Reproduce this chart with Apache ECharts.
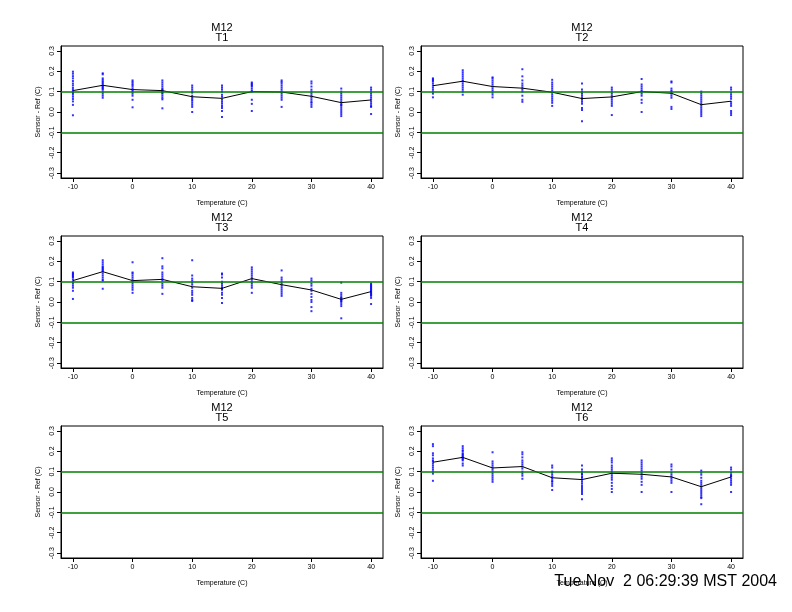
<!DOCTYPE html>
<html>
<head>
<meta charset="utf-8">
<script src="https://cdn.jsdelivr.net/npm/echarts@6/dist/echarts.min.js"></script>
<style>html,body{margin:0;padding:0;background:#fff;}#c{width:792px;height:612px;}</style>
</head>
<body>
<div id="c"></div>
<script>
const temps = [-10, -5, 0, 5, 10, 15, 20, 25, 30, 35, 40];
const xTicks = [-10, 0, 10, 20, 30, 40];
const yTicks = [-0.3, -0.2, -0.1, 0, 0.1, 0.2, 0.3];
const refLines = [0.1, -0.1];
const panelTitles = ['T1', 'T2', 'T3', 'T4', 'T5', 'T6'];
const mainTitle = 'M12';
const xName = 'Temperature (C)';
const yName = 'Sensor - Ref (C)';
const stamp = 'Tue Nov  2 06:29:39 MST 2004';

// T1
const t1Points = [
  [0.198,0.188,0.176,0.165,0.152,0.14,0.13,0.118,0.108,0.1,0.093,0.085,0.075,0.064,0.052,0.035,-0.016],
  [0.19,0.185,0.165,0.158,0.15,0.145,0.138,0.13,0.125,0.12,0.115,0.11,0.1,0.09,0.08,0.07],
  [0.155,0.148,0.14,0.133,0.125,0.115,0.105,0.1,0.09,0.08,0.06,0.023],
  [0.155,0.145,0.135,0.125,0.115,0.11,0.105,0.1,0.095,0.09,0.08,0.07,0.062,0.018],
  [0.13,0.12,0.11,0.1,0.095,0.08,0.07,0.062,0.055,0.045,0.035,0.025,0.0],
  [0.13,0.12,0.11,0.1,0.085,0.075,0.06,0.05,0.04,0.03,0.02,0.005,-0.025],
  [0.145,0.14,0.135,0.13,0.125,0.115,0.105,0.1,0.06,0.04,0.005],
  [0.155,0.148,0.14,0.13,0.12,0.11,0.1,0.09,0.08,0.07,0.06,0.025],
  [0.15,0.14,0.125,0.11,0.1,0.09,0.08,0.07,0.06,0.05,0.045,0.035,0.025],
  [0.115,0.1,0.09,0.08,0.07,0.06,0.05,0.04,0.035,0.03,0.02,0.01,0.0,-0.01,-0.02],
  [0.12,0.11,0.1,0.09,0.08,0.07,0.06,0.05,0.04,0.03,0.025,-0.01]
];
const t1Mean = [0.105, 0.131, 0.11, 0.105, 0.075, 0.067, 0.1, 0.098, 0.077, 0.046, 0.059];

// T2
const t2Points = [
  [0.165,0.16,0.155,0.15,0.14,0.13,0.12,0.11,0.1,0.09,0.072],
  [0.205,0.195,0.185,0.175,0.165,0.155,0.15,0.14,0.13,0.12,0.11,0.1,0.085],
  [0.17,0.165,0.155,0.145,0.135,0.125,0.115,0.105,0.095,0.085,0.072],
  [0.21,0.175,0.155,0.14,0.13,0.12,0.11,0.1,0.08,0.06,0.05],
  [0.158,0.145,0.135,0.125,0.115,0.105,0.095,0.085,0.075,0.065,0.055,0.045,0.03],
  [0.14,0.11,0.1,0.09,0.08,0.07,0.06,0.05,0.04,0.02,0.01,-0.045],
  [0.12,0.11,0.1,0.09,0.08,0.07,0.06,0.05,0.04,0.03,-0.015],
  [0.162,0.135,0.125,0.115,0.105,0.1,0.09,0.08,0.06,0.045,0.0],
  [0.15,0.145,0.115,0.105,0.1,0.09,0.08,0.07,0.025,0.015],
  [0.1,0.09,0.08,0.07,0.06,0.05,0.04,0.03,0.02,0.01,0.0,-0.01,-0.02],
  [0.12,0.11,0.095,0.085,0.075,0.065,0.05,0.04,0.03,0.005,-0.005,-0.015]
];
const t2Mean = [0.129, 0.151, 0.125, 0.117, 0.097, 0.066, 0.074, 0.1, 0.092, 0.036, 0.053];

// T3
const t3Points = [
  [0.145,0.14,0.135,0.13,0.125,0.12,0.11,0.1,0.09,0.08,0.07,0.055,0.015],
  [0.205,0.195,0.185,0.175,0.17,0.165,0.16,0.155,0.15,0.14,0.13,0.12,0.11,0.105,0.065],
  [0.195,0.145,0.14,0.13,0.12,0.11,0.1,0.09,0.08,0.07,0.06,0.045],
  [0.215,0.175,0.165,0.145,0.135,0.125,0.115,0.105,0.09,0.08,0.07,0.04],
  [0.205,0.13,0.115,0.105,0.095,0.085,0.07,0.055,0.045,0.035,0.02,0.01,0.005],
  [0.14,0.135,0.12,0.1,0.09,0.08,0.07,0.065,0.06,0.045,0.035,0.02,-0.005],
  [0.17,0.16,0.15,0.14,0.13,0.12,0.11,0.1,0.09,0.08,0.07,0.045],
  [0.155,0.12,0.11,0.1,0.09,0.08,0.07,0.06,0.05,0.04,0.03],
  [0.115,0.105,0.09,0.08,0.065,0.055,0.04,0.025,0.01,0.0,-0.025,-0.045],
  [0.095,0.045,0.035,0.025,0.02,0.015,0.01,0.005,0.0,-0.01,-0.02,-0.08],
  [0.09,0.085,0.08,0.075,0.07,0.065,0.06,0.055,0.05,0.045,0.04,0.035,0.03,0.02,-0.01]
];
const t3Mean = [0.105, 0.149, 0.105, 0.111, 0.075, 0.067, 0.115, 0.085, 0.059, 0.013, 0.051];

// T4, T5: no data
const t4Points = [];
const t4Mean = [];
const t5Points = [];
const t5Mean = [];

// T6
const t6Points = [
  [0.235,0.225,0.19,0.18,0.165,0.155,0.15,0.14,0.13,0.12,0.11,0.1,0.09,0.055],
  [0.225,0.215,0.205,0.2,0.19,0.185,0.18,0.175,0.17,0.165,0.16,0.155,0.14,0.13],
  [0.195,0.15,0.14,0.13,0.12,0.11,0.1,0.09,0.08,0.07,0.06,0.05],
  [0.195,0.185,0.17,0.155,0.145,0.135,0.125,0.115,0.1,0.09,0.08,0.065],
  [0.13,0.12,0.1,0.095,0.085,0.075,0.065,0.055,0.05,0.04,0.03,0.01],
  [0.13,0.11,0.1,0.09,0.085,0.075,0.07,0.06,0.05,0.04,0.03,0.02,0.01,0.0,-0.01,-0.035],
  [0.165,0.155,0.145,0.13,0.12,0.11,0.1,0.09,0.08,0.07,0.06,0.045,0.03,0.015,0.0],
  [0.155,0.145,0.135,0.125,0.115,0.105,0.095,0.085,0.075,0.065,0.05,0.035,0.0],
  [0.135,0.125,0.11,0.095,0.085,0.075,0.065,0.055,0.045,0.0],
  [0.105,0.095,0.085,0.07,0.055,0.045,0.035,0.025,0.015,0.005,-0.005,-0.015,-0.025,-0.03,-0.06],
  [0.12,0.11,0.095,0.085,0.08,0.075,0.065,0.055,0.045,0.035,0.0]
];
const t6Mean = [0.146, 0.17, 0.118, 0.125, 0.07, 0.061, 0.092, 0.087, 0.074, 0.026, 0.074];

const panelPoints = [t1Points, t2Points, t3Points, t4Points, t5Points, t6Points];
const panelMeans = [t1Mean, t2Mean, t3Mean, t4Mean, t5Mean, t6Mean];

const FONT = '"Liberation Sans", Arial, Helvetica, sans-serif';
const colLeft = [61, 421];
const rowTop = [46, 236, 426];
const gw = 322, gh = 132;

const grids = [], xAxes = [], yAxes = [], series = [], graphics = [];
for (let i = 0; i < 6; i++) {
  const c = i % 2, r = Math.floor(i / 2);
  grids.push({left: colLeft[c], top: rowTop[r], width: gw, height: gh, show: true,
    borderColor: '#000', borderWidth: 1, backgroundColor: 'transparent', containLabel: false});
  xAxes.push({type: 'value', gridIndex: i, min: -12, max: 42,
    name: xName, nameLocation: 'middle', nameGap: 22,
    nameTextStyle: {fontFamily: FONT, fontSize: 7, color: '#000'},
    axisLine: {show: true, onZero: false, lineStyle: {color: '#000', width: 1}},
    axisTick: {show: true, length: 4, inside: false, customValues: xTicks, lineStyle: {color: '#000'}},
    axisLabel: {show: true, customValues: xTicks, margin: 6, fontFamily: FONT, fontSize: 7, color: '#000',
      formatter: v => String(v)},
    splitLine: {show: false}});
  yAxes.push({type: 'value', gridIndex: i, min: -0.324, max: 0.324,
    name: yName, nameLocation: 'middle', nameGap: 19, nameRotate: 90,
    nameTextStyle: {fontFamily: FONT, fontSize: 7, color: '#000'},
    axisLine: {show: true, onZero: false, lineStyle: {color: '#000', width: 1}},
    axisTick: {show: true, length: 4, inside: false, customValues: yTicks, lineStyle: {color: '#000'}},
    axisLabel: {show: true, customValues: yTicks, rotate: 90, margin: 5, fontFamily: FONT, fontSize: 7, color: '#000',
      formatter: v => Number(v).toFixed(1)},
    splitLine: {show: false}});

  const pts = [];
  panelPoints[i].forEach((arr, k) => arr.forEach(v => pts.push([temps[k], v])));
  series.push({type: 'scatter', xAxisIndex: i, yAxisIndex: i, data: pts, symbol: 'rect',
    symbolSize: [2, 2], itemStyle: {color: '#0000ff'}, silent: true, z: 2, animation: false});
  series.push({type: 'line', xAxisIndex: i, yAxisIndex: i,
    data: panelMeans[i].map((v, k) => [temps[k], v]),
    showSymbol: false, symbol: 'none', lineStyle: {color: '#000', width: 1}, silent: true, z: 3, animation: false});
  series.push({type: 'line', xAxisIndex: i, yAxisIndex: i, data: [], z: 4, animation: false,
    markLine: {silent: true, symbol: ['none', 'none'], label: {show: false}, animation: false,
      lineStyle: {color: '#008000', width: 1.5, type: 'solid', opacity: 1},
      emphasis: {disabled: true},
      data: refLines.map(v => ({yAxis: v, lineStyle: {color: '#008000', width: 1.5, type: 'solid', opacity: 1}}))}});

  const cx = colLeft[c] + gw / 2;
  graphics.push({type: 'text', x: cx, y: rowTop[r] - 18, style: {text: mainTitle, font: '11px ' + FONT,
    fill: '#000', textAlign: 'center', textVerticalAlign: 'middle'}});
  graphics.push({type: 'text', x: cx, y: rowTop[r] - 8, style: {text: panelTitles[i], font: '11px ' + FONT,
    fill: '#000', textAlign: 'center', textVerticalAlign: 'middle'}});
}
graphics.push({type: 'text', x: 777, y: 582, style: {text: stamp, font: '16px ' + FONT,
  fill: '#000', textAlign: 'right', textVerticalAlign: 'middle'}});

const chart = echarts.init(document.getElementById('c'), null, {renderer: 'canvas'});
chart.setOption({animation: false, backgroundColor: '#fff', grid: grids, xAxis: xAxes, yAxis: yAxes,
  series: series, graphic: graphics});
</script>
</body>
</html>
